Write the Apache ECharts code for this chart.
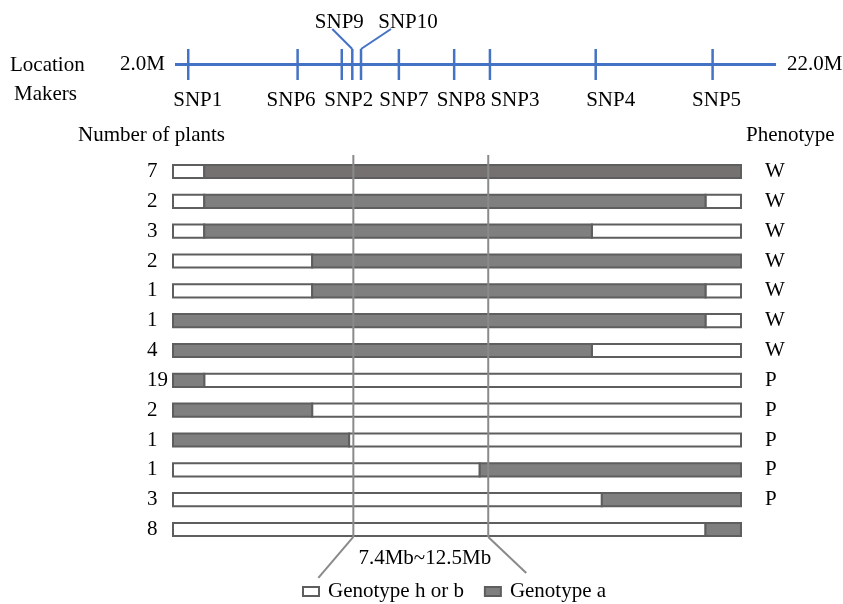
<!DOCTYPE html>
<html><head><meta charset="utf-8">
<script src="https://cdn.jsdelivr.net/npm/echarts@6/dist/echarts.min.js"></script>
<style>html,body{margin:0;padding:0;background:#fff}#c{width:843px;height:604px}</style>
</head><body><div id="c"></div>
<script>
// ---------------- data ----------------
const mapStart = 2.0;
const mapEnd = 22.0;
const markerNames = ['SNP1','SNP6','SNP2','SNP9','SNP10','SNP7','SNP8','SNP3','SNP4','SNP5'];
const markerPositions = [2.44, 6.08, 7.55, 7.90, 8.19, 9.45, 11.29, 12.48, 16.00, 19.89];
const plantCounts = [7, 2, 3, 2, 1, 1, 4, 19, 2, 1, 1, 3, 8];
const phenotypes = ['W','W','W','W','W','W','W','P','P','P','P','P',''];
const startGenotype = ['h','h','h','h','h','a','a','a','a','a','h','h','h'];
const breakpoints = [[3.1],[3.1,20.75],[3.1,16.75],[6.9],[6.9,20.75],[20.75],[16.75],[3.1],[6.9],[8.2],[12.8],[17.1],[20.75]];
const intervalBounds = [8.35, 13.1];
const intervalLabel = '7.4Mb~12.5Mb';
const legendNames = ['Genotype h or b', 'Genotype a'];

// ---------------- layout / style ----------------
const FONT = '"Liberation Serif", "Times New Roman", serif';
const FS = 21;
const BLUE = '#4472C4';
const EDGE = '#5e5e5e';
const GRAY = '#7f7f7f';
const GRAY_FIRST = '#767171';
const LINEGRAY = '#8a8a8a';
// label placement relative to each marker tick (px)
const labelShift = { SNP1: 9.5, SNP6: -6.5, SNP2: 7, SNP9: -13, SNP10: 47, SNP7: 5, SNP8: 7, SNP3: 25, SNP4: 15, SNP5: 4 };
const labelAbove = { SNP9: -7, SNP10: -17 }; // leader start offsets for labels placed above

// build segments
const segH = [], segA = [];
breakpoints.forEach((bps, row) => {
  const edges = [mapStart, ...bps, mapEnd];
  let g = startGenotype[row];
  for (let i = 0; i < edges.length - 1; i++) {
    (g === 'h' ? segH : segA).push([edges[i], edges[i + 1], row]);
    g = g === 'h' ? 'a' : 'h';
  }
});

function segRender(isA) {
  return function (params, api) {
    const row = api.value(2);
    const p0 = api.coord([api.value(0), row]);
    const p1 = api.coord([api.value(1), row]);
    const band = api.size([0, 1])[1];
    const h = band * 0.44;
    return {
      type: 'rect',
      shape: { x: p0[0], y: p0[1] - h / 2, width: p1[0] - p0[0], height: h },
      style: { fill: isA ? (row === 0 ? GRAY_FIRST : GRAY) : '#ffffff', stroke: EDGE, lineWidth: 2 }
    };
  };
}

const txt = (text, x, y, align) => ({
  type: 'text', x: x, y: y,
  style: { text: text, fill: '#000', fontSize: FS, fontFamily: FONT, align: align || 'center', verticalAlign: 'middle' }
});

const chart = echarts.init(document.getElementById('c'), null, { renderer: 'canvas' });
const option = {
  animation: false,
  backgroundColor: '#ffffff',
  grid: [
    { left: 175, right: 67, top: 49, height: 31 },
    { left: 173, right: 102, top: 156.6, height: 387.8 }
  ],
  xAxis: [
    { gridIndex: 0, type: 'value', min: mapStart, max: mapEnd, show: false },
    { gridIndex: 1, type: 'value', min: mapStart, max: mapEnd, show: false }
  ],
  yAxis: [
    { gridIndex: 0, type: 'value', min: 0, max: 1, show: false },
    {
      gridIndex: 1, type: 'category', inverse: true, position: 'left',
      data: plantCounts.map((_, i) => String(i)),
      axisLine: { show: false }, axisTick: { show: false }, splitLine: { show: false },
      axisLabel: { interval: 0, margin: 26, align: 'left', fontSize: FS, fontFamily: FONT, color: '#000',
        formatter: (v, i) => String(plantCounts[i]) }
    },
    {
      gridIndex: 1, type: 'category', inverse: true, position: 'right',
      data: phenotypes.map((_, i) => String(i)),
      axisLine: { show: false }, axisTick: { show: false }, splitLine: { show: false },
      axisLabel: { interval: 0, margin: 24, align: 'left', fontSize: FS, fontFamily: FONT, color: '#000',
        formatter: (v, i) => phenotypes[i] }
    }
  ],
  legend: {
    left: 297, top: 576, itemWidth: 16, itemHeight: 9, itemGap: 20, icon: 'rect',
    selectedMode: false,
    textStyle: { fontFamily: FONT, fontSize: FS, color: '#000', padding: [0, 0, 0, 4] },
    data: [
      { name: legendNames[0], itemStyle: { color: '#ffffff', borderColor: EDGE, borderWidth: 2 } },
      { name: legendNames[1], itemStyle: { color: GRAY, borderColor: EDGE, borderWidth: 2 } }
    ]
  },
  graphic: [
    { type: 'text', x: 10, y: 65, style: { text: 'Location', fill: '#000', fontSize: FS, fontFamily: FONT, align: 'left', verticalAlign: 'middle' } },
    { type: 'text', x: 14, y: 94, style: { text: 'Makers', fill: '#000', fontSize: FS, fontFamily: FONT, align: 'left', verticalAlign: 'middle' } },
    { type: 'text', x: 78, y: 135, style: { text: 'Number of plants', fill: '#000', fontSize: FS, fontFamily: FONT, align: 'left', verticalAlign: 'middle' } },
    { type: 'text', x: 746, y: 135, style: { text: 'Phenotype', fill: '#000', fontSize: FS, fontFamily: FONT, align: 'left', verticalAlign: 'middle' } }
  ],
  series: [
    {
      name: 'map', type: 'custom', xAxisIndex: 0, yAxisIndex: 0, silent: true,
      data: [[mapStart, mapEnd]],
      renderItem: function (params, api) {
        const a = api.coord([api.value(0), 0.5]);
        const b = api.coord([api.value(1), 0.5]);
        return { type: 'group', children: [
          { type: 'line', shape: { x1: a[0], y1: a[1], x2: b[0], y2: b[1] }, style: { stroke: BLUE, lineWidth: 3 } },
          txt(mapStart.toFixed(1) + 'M', a[0] - 10, a[1], 'right'),
          txt(mapEnd.toFixed(1) + 'M', b[0] + 11, a[1], 'left')
        ] };
      }
    },
    {
      name: 'markers', type: 'custom', xAxisIndex: 0, yAxisIndex: 0, silent: true,
      data: markerPositions.map((p, i) => [p, i]),
      renderItem: function (params, api) {
        const name = markerNames[api.value(1)];
        const top = api.coord([api.value(0), 1]);
        const bot = api.coord([api.value(0), 0]);
        const mid = (top[1] + bot[1]) / 2;
        const lx = top[0] + labelShift[name];
        const children = [
          { type: 'line', shape: { x1: top[0], y1: top[1], x2: bot[0], y2: bot[1] }, style: { stroke: BLUE, lineWidth: 2.5 } }
        ];
        if (labelAbove[name] !== undefined) {
          const ly = mid - 42.5;
          children.push(txt(name, lx, ly, 'center'));
          children.push({ type: 'line', shape: { x1: lx + labelAbove[name], y1: ly + 7, x2: top[0], y2: top[1] }, style: { stroke: BLUE, lineWidth: 2 } });
        } else {
          children.push(txt(name, lx, mid + 36, 'center'));
        }
        return { type: 'group', children: children };
      }
    },
    {
      name: legendNames[0], type: 'custom', xAxisIndex: 1, yAxisIndex: 1, silent: true,
      itemStyle: { color: '#ffffff', borderColor: EDGE },
      data: segH, renderItem: segRender(false)
    },
    {
      name: legendNames[1], type: 'custom', xAxisIndex: 1, yAxisIndex: 1, silent: true,
      itemStyle: { color: GRAY, borderColor: EDGE },
      data: segA, renderItem: segRender(true)
    },
    {
      name: 'interval', type: 'custom', xAxisIndex: 1, yAxisIndex: 1, silent: true, z: 5,
      data: [[intervalBounds[0], intervalBounds[1]]],
      renderItem: function (params, api) {
        const band = api.size([0, 1])[1];
        const last = plantCounts.length - 1;
        const l0 = api.coord([api.value(0), 0]);
        const r0 = api.coord([api.value(1), 0]);
        const lb = api.coord([api.value(0), last]);
        const top = l0[1] - band * 0.553;
        const bottom = lb[1] + band * 0.25;
        const st = { stroke: LINEGRAY, lineWidth: 2 };
        return { type: 'group', children: [
          { type: 'line', shape: { x1: l0[0], y1: top, x2: l0[0], y2: bottom }, style: st },
          { type: 'line', shape: { x1: r0[0], y1: top, x2: r0[0], y2: bottom }, style: st },
          { type: 'line', shape: { x1: l0[0], y1: bottom, x2: l0[0] - 35, y2: bottom + 41 }, style: st },
          { type: 'line', shape: { x1: r0[0], y1: bottom, x2: r0[0] + 38, y2: bottom + 36 }, style: st },
          txt(intervalLabel, (l0[0] + r0[0]) / 2 + 4, bottom + 22, 'center')
        ] };
      }
    }
  ]
};
chart.setOption(option);
</script>
</body></html>
